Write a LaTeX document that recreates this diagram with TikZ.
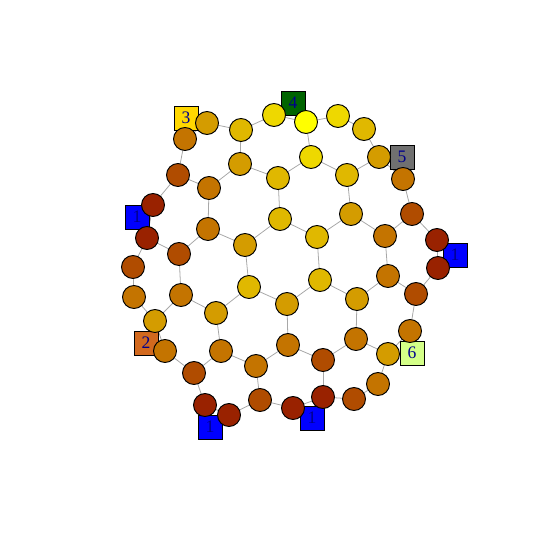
\documentclass[tikz,border=0pt]{standalone}
\usepackage{fontspec}
\setmainfont{Liberation Serif}
\definecolor{hA}{HTML}{FFFF00}
\definecolor{hB}{HTML}{EED800}
\definecolor{hC}{HTML}{E0B800}
\definecolor{hD}{HTML}{D49C00}
\definecolor{hE}{HTML}{C47400}
\definecolor{hF}{HTML}{B04C00}
\definecolor{hG}{HTML}{992200}
\definecolor{edgegray}{HTML}{A8A8A8}
\definecolor{labelblue}{HTML}{00008B}
\definecolor{sqgold}{HTML}{FFD700}
\definecolor{sqgreen}{HTML}{006400}
\definecolor{sqgray}{HTML}{707070}
\definecolor{sqblue}{HTML}{0000FF}
\definecolor{sqbrown}{HTML}{D2691E}
\definecolor{sqlime}{HTML}{D4FF88}
\begin{document}
\begin{tikzpicture}[x=0.02cm, y=-0.02cm,
    vtx/.style={circle, draw=black, line width=0.55pt, minimum size=0.46cm, inner sep=0pt},
    sqbox/.style={rectangle, draw=black, line width=0.55pt, minimum size=0.48cm, inner sep=0pt,
        text=labelblue, font=\fontsize{10}{11}\selectfont},
    edge/.style={draw=edgegray, line width=0.45pt}]
    \useasboundingbox (0,0) rectangle (550,550);

    % vertex positions
    \foreach \n/\x/\y in {1/207/123, 2/185/139, 3/241/130, 4/274/115, 5/306/122,
        6/338/116, 7/364/129, 8/379/157, 9/403/179, 10/240/164, 11/278/178,
        12/311/157, 13/347/175, 14/178/175, 15/209/188, 16/153/205, 17/147/238,
        18/133/267, 19/134/297, 20/179/254, 21/208/229, 22/245/245, 23/280/219,
        24/317/237, 25/351/214, 26/385/236, 27/412/214, 28/437/240, 29/438/268,
        30/388/276, 31/416/294, 32/181/295, 33/155/321, 34/165/351, 35/216/313,
        36/249/287, 37/287/304, 38/320/280, 39/357/299, 40/410/331, 41/388/354,
        42/356/339, 43/323/360, 44/288/345, 45/256/366, 46/221/351, 47/194/373,
        48/205/405, 49/229/415, 50/260/400, 51/293/408, 52/323/397, 53/354/399,
        54/378/384}
        \coordinate (p\n) at (\x,\y);

    % edges
    \foreach \a/\b in {1/2, 1/3, 3/4, 4/5, 5/6, 6/7, 7/8, 8/9, 3/10, 5/12, 10/11,
        11/12, 12/13, 13/8, 10/15, 2/14, 14/15, 14/16, 16/17, 15/21, 11/23, 13/25,
        9/27, 27/26, 27/28, 28/29, 25/26, 23/24, 24/25, 22/23, 21/22, 21/20, 17/20,
        17/18, 20/32, 18/19, 19/33, 33/34, 32/33, 32/35, 35/36, 22/36, 36/37, 37/38,
        24/38, 38/39, 39/30, 26/30, 30/31, 31/29, 31/40, 40/41, 37/44, 39/42,
        35/46, 42/41, 42/43, 44/43, 44/45, 46/45, 46/47, 34/47, 47/48, 48/49,
        45/50, 49/50, 50/51, 51/52, 43/52, 52/53, 53/54, 54/41}
        \draw[edge] (p\a) -- (p\b);

    % square vertices
    \node[sqbox, fill=sqgold] (s3) at (186,118) {3};
    \node[sqbox, fill=sqgreen] (s4) at (293,103) {4};
    \node[sqbox, fill=sqgray] (s5) at (402,157) {5};
    \node[sqbox, fill=sqblue] (s1a) at (137,217) {1};
    \node[sqbox, fill=sqblue] (s1b) at (455,255) {1};
    \node[sqbox, fill=sqbrown] (s2) at (146,343) {2};
    \node[sqbox, fill=sqlime] (s6) at (412,353) {6};
    \node[sqbox, fill=sqblue] (s1c) at (210,427) {1};
    \node[sqbox, fill=sqblue] (s1d) at (312,418) {1};

    % circle vertices
    \foreach \n/\c in {1/hD, 2/hE, 3/hC, 4/hB, 5/hA, 6/hB, 7/hC, 8/hD, 9/hE,
        10/hD, 11/hC, 12/hB, 13/hC, 14/hF, 15/hE, 16/hG, 17/hG, 18/hF, 19/hE,
        20/hF, 21/hE, 22/hD, 23/hC, 24/hC, 25/hD, 26/hE, 27/hF, 28/hG, 29/hG,
        30/hE, 31/hF, 32/hE, 33/hD, 34/hE, 35/hD, 36/hC, 37/hD, 38/hC, 39/hD,
        40/hE, 41/hD, 42/hE, 43/hF, 44/hE, 45/hE, 46/hE, 47/hF, 48/hG, 49/hG,
        50/hF, 51/hG, 52/hG, 53/hF, 54/hE}
        \node[vtx, fill=\c] (c\n) at (p\n) {};
\end{tikzpicture}
\end{document}
